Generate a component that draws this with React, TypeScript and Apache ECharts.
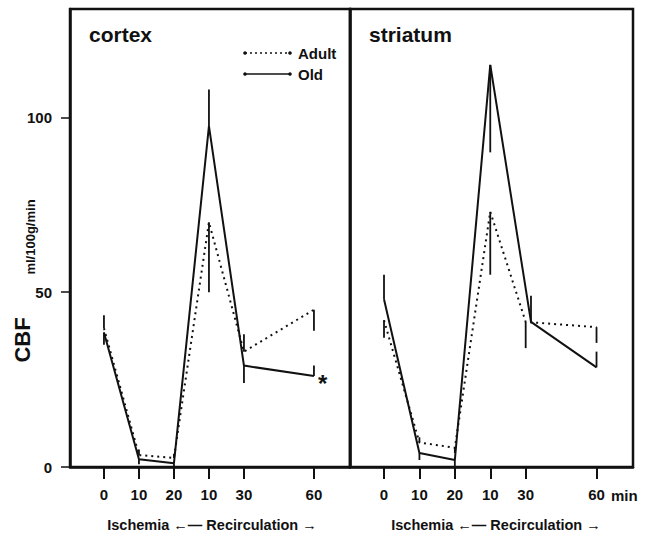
import React, { useEffect, useRef } from "react";
import * as echarts from "echarts";

// Time points (axis positions) and their printed labels
const xPositions = [0, 1, 2, 3, 4, 6];
const xLabels = ["0", "10", "20", "10", "30", "60"];
const yTicks = [0, 50, 100];

// Cortex CBF (ml/100g/min): means and the end of each error bar
const cortexAdult = [39.7, 3.4, 2.6, 70, 33, 45];
const cortexAdultErr = [43.4, 5, 3.8, 50, 38, 39];
const cortexOld = [38.5, 2.2, 1.1, 97.5, 29, 26];
const cortexOldErr = [35, 0.8, 0.3, 108, 24, 29];

// Striatum CBF (ml/100g/min)
const striatumAdult = [42, 7, 5.5, 73, 41.5, 40];
const striatumAdultErr = [37, 8.5, 4, 55, 34, 35.5];
const striatumOld = [48, 4, 2, 115, 41.5, 28.5];
const striatumOldErr = [55, 2, 0.3, 90, 49, 33];
const striatumOldX = [0, 1, 2, 3, 4.15, 6];

const FONT = "'Liberation Sans', Arial, sans-serif";
const INK = "#111";

function pairs(xs: number[], ys: number[]) {
  return ys.map((y, i) => [xs[i], y]);
}
function bars(xs: number[], ys: number[], ends: number[]) {
  return ys.map((y, i) => [xs[i], y, ends[i]]);
}

const errorBarRender = (params: any, api: any) => {
  const p1 = api.coord([api.value(0), api.value(1)]);
  const p2 = api.coord([api.value(0), api.value(2)]);
  return {
    type: "line",
    shape: { x1: p1[0], y1: p1[1], x2: p2[0], y2: p2[1] },
    style: { stroke: INK, lineWidth: 1.8 },
  };
};

function xAxisFor(gridIndex: number, min: number, max: number) {
  return {
    type: "value",
    gridIndex,
    min,
    max,
    splitLine: { show: false },
    axisLine: { show: true, onZero: false, lineStyle: { color: INK, width: 2.5 } },
    axisTick: {
      show: true,
      customValues: xPositions,
      length: 12,
      lineStyle: { color: INK, width: 2 },
    },
    axisLabel: {
      customValues: xPositions,
      formatter: (v: number) => {
        const i = xPositions.indexOf(v);
        return i >= 0 ? xLabels[i] : "";
      },
      margin: 20,
      color: INK,
      fontFamily: FONT,
      fontWeight: "bold",
      fontSize: 15,
    },
  };
}

function yAxisFor(gridIndex: number, showLabels: boolean) {
  return {
    type: "value",
    gridIndex,
    min: 0,
    max: 131,
    splitLine: { show: false },
    axisLine: { show: true, onZero: false, lineStyle: { color: INK, width: 2.5 } },
    axisTick: {
      show: showLabels,
      customValues: yTicks,
      length: 9,
      lineStyle: { color: INK, width: 1.5 },
    },
    axisLabel: {
      show: showLabels,
      customValues: yTicks,
      margin: 18,
      color: INK,
      fontFamily: FONT,
      fontWeight: "bold",
      fontSize: 15,
    },
  };
}

function lineSeries(idx: number, data: number[][], dotted: boolean) {
  return {
    type: "line",
    xAxisIndex: idx,
    yAxisIndex: idx,
    data,
    symbol: "none",
    lineStyle: { color: INK, width: 2, type: dotted ? [2, 4] : "solid" },
    z: 3,
  };
}

function errSeries(idx: number, data: number[][]) {
  return {
    type: "custom",
    xAxisIndex: idx,
    yAxisIndex: idx,
    renderItem: errorBarRender,
    data,
    z: 4,
  };
}

const boldText = (text: string, x: number, y: number, size: number, extra: any = {}) => ({
  type: "text",
  x,
  y,
  ...extra,
  style: {
    text,
    fill: INK,
    font: `bold ${size}px ${FONT}`,
    align: extra.align || "left",
    verticalAlign: "middle",
  },
});

export default function App() {
  const ref = useRef<HTMLDivElement>(null);

  useEffect(() => {
    if (!ref.current) return;
    const chart = echarts.init(ref.current, null, { renderer: "svg" });

    const option = {
      animation: false,
      backgroundColor: "#fff",
      grid: [
        { left: 70, top: 9, width: 280, height: 458, show: true, borderColor: INK, borderWidth: 2.5 },
        { left: 350, top: 9, width: 283, height: 458, show: true, borderColor: INK, borderWidth: 2.5 },
      ],
      xAxis: [xAxisFor(0, -0.97, 7.03), xAxisFor(1, -0.96, 7.03)],
      yAxis: [yAxisFor(0, true), yAxisFor(1, false)],
      series: [
        lineSeries(0, pairs(xPositions, cortexAdult), true),
        lineSeries(0, pairs(xPositions, cortexOld), false),
        errSeries(0, bars(xPositions, cortexAdult, cortexAdultErr)),
        errSeries(0, bars(xPositions, cortexOld, cortexOldErr)),
        lineSeries(1, pairs(xPositions, striatumAdult), true),
        lineSeries(1, pairs(striatumOldX, striatumOld), false),
        errSeries(1, bars(xPositions, striatumAdult, striatumAdultErr)),
        errSeries(1, bars(striatumOldX, striatumOld, striatumOldErr)),
      ],
      graphic: [
        boldText("cortex", 89, 34, 21),
        boldText("striatum", 369, 34, 21),
        // legend
        {
          type: "line",
          shape: { x1: 245, y1: 53, x2: 290, y2: 53 },
          style: { stroke: INK, lineWidth: 1.5, lineDash: [2, 3] },
        },
        { type: "circle", shape: { cx: 245, cy: 53, r: 1.8 }, style: { fill: INK } },
        { type: "circle", shape: { cx: 290, cy: 53, r: 1.8 }, style: { fill: INK } },
        boldText("Adult", 298, 53, 15),
        {
          type: "line",
          shape: { x1: 245, y1: 74, x2: 290, y2: 74 },
          style: { stroke: INK, lineWidth: 1.5 },
        },
        { type: "circle", shape: { cx: 245, cy: 74, r: 1.8 }, style: { fill: INK } },
        { type: "circle", shape: { cx: 290, cy: 74, r: 1.8 }, style: { fill: INK } },
        boldText("Old", 298, 74, 15),
        // significance marker
        boldText("*", 318, 383, 24),
        // axis titles
        boldText("CBF", 22, 340, 22, { rotation: Math.PI / 2, align: "center" }),
        boldText("ml/100g/min", 30, 237, 13, { rotation: Math.PI / 2, align: "center" }),
        boldText("min", 611, 495, 15),
        boldText("Ischemia \u2190\u2014 Recirculation \u2192", 212, 525, 14.5, { align: "center" }),
        boldText("Ischemia \u2190\u2014 Recirculation \u2192", 496, 525, 14.5, { align: "center" }),
      ],
    };

    chart.setOption(option as any);
    return () => chart.dispose();
  }, []);

  return (
    <div
      ref={ref}
      style={{ position: "fixed", left: 0, top: 0, width: 645, height: 538, background: "#fff" }}
    />
  );
}
